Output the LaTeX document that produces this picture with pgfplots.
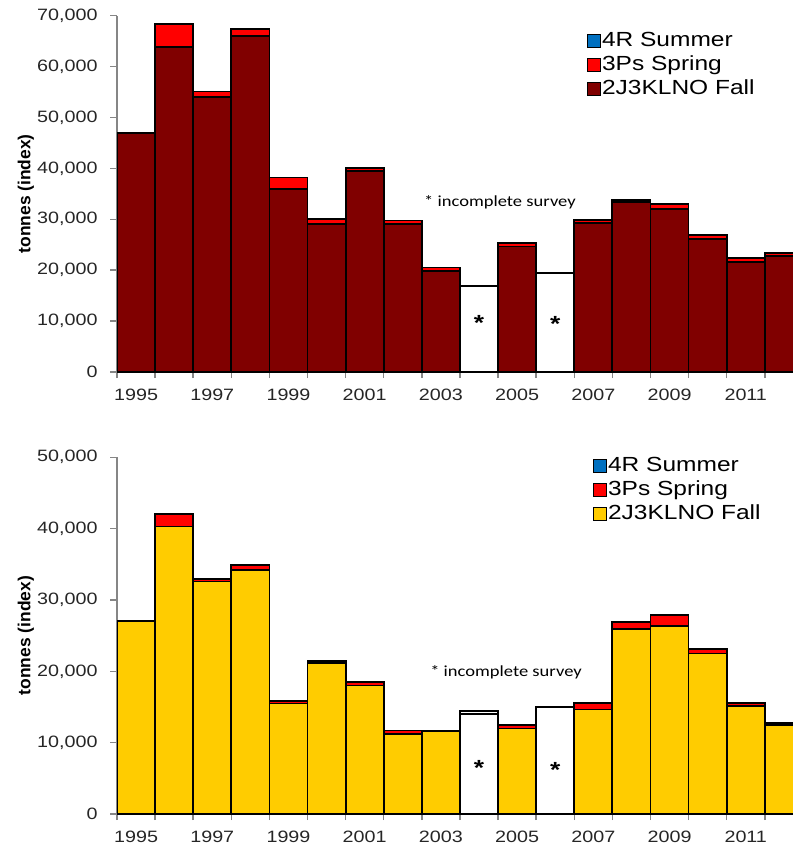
\documentclass[border=0pt]{standalone}
\usepackage{pgfplots}
\pgfplotsset{compat=1.18}
\usepackage{fontspec}
\setmainfont[FakeStretch=1.2]{Liberation Sans}
\newfontfamily\plainsans{Liberation Sans}
\newfontfamily\calib[FakeStretch=1.2]{Carlito}
\definecolor{fallred}{HTML}{800000}
\definecolor{springred}{HTML}{FF0000}
\definecolor{fallyellow}{HTML}{FFCC00}
\definecolor{summerblue}{HTML}{0070C0}
\definecolor{axisgray}{HTML}{868686}
\pgfplotsset{
  myaxis/.style={
    scale only axis, width=676bp, height=356.3bp,
    xmin=1994.5, xmax=2012.24, ymin=0,
    axis lines=left,
    axis line style={-, draw=axisgray, line width=1.5bp},
    tick align=outside,
    major tick length=7bp, minor tick length=6bp,
    xtick={1995,1997,...,2011},
    xticklabels={1995,1997,1999,2001,2003,2005,2007,2009,2011},
    minor xtick={1994.5,1995.5,...,2012.5},
    major x tick style={draw=none},
    minor x tick style={draw=axisgray, line width=1.5bp},
    major y tick style={draw=axisgray, line width=1.5bp},
    tick label style={font=\fontsize{16.5}{18}\selectfont, text=black!85},
    yticklabel style={xshift=-9bp, /pgf/number format/.cd, 1000 sep={,}, assume math mode=true},
    xticklabel style={yshift=-6bp},
    scaled y ticks=false,
    ylabel={\plainsans\bfseries\fontsize{17.5}{19}\selectfont tonnes (index)},
    ylabel style={at={(axis description cs:-0.135,0.5)}, anchor=center},
    legend style={draw=none, fill=none, inner sep=0pt, anchor=north west,
      font=\fontsize{20.5}{24}\selectfont, row sep=3bp,
      nodes={text height=15bp, text depth=4bp, inner sep=1bp},
      cells={anchor=west}},
    legend image code/.code={\draw[##1, line width=1bp] (0bp,-6.5bp) rectangle (13bp,6.5bp);},
  },
  mybar/.style={ybar, bar shift=0pt, bar width=1, draw=black, line width=1.8bp, forget plot},
}
\begin{document}
\begin{tikzpicture}
\useasboundingbox (0,0) rectangle (793bp,-848bp);
% ---------------- top chart ----------------
\begin{axis}[myaxis, at={(117bp,-372bp)}, anchor=south west,
  ymax=70000, ytick={0,10000,...,70000},
  legend style={at={(axis description cs:0.695,0.96)}}]
\addlegendimage{fill=summerblue, draw=black}
\addlegendentry{4R Summer}
\addlegendimage{fill=springred, draw=black}
\addlegendentry{3Ps Spring}
\addlegendimage{fill=fallred, draw=black}
\addlegendentry{2J3KLNO Fall}
% total (fall + spring)
\addplot[mybar, fill=springred] coordinates {
 (1995,47000) (1996,68400) (1997,55100) (1998,67400) (1999,38200) (2000,30000)
 (2001,40150) (2002,29750) (2003,20550) (2005,25300) (2007,29800) (2008,33800)
 (2009,32950) (2010,26900) (2011,22350) (2012,23400)};
% 2J3KLNO fall
\addplot[mybar, fill=fallred] coordinates {
 (1995,47000) (1996,63800) (1997,54000) (1998,66000) (1999,35900) (2000,29000)
 (2001,39550) (2002,29100) (2003,19850) (2005,24650) (2007,29350) (2008,33350)
 (2009,32000) (2010,26200) (2011,21650) (2012,22800)};
% incomplete surveys
\addplot[mybar, fill=white] coordinates {(2004,16900) (2006,19500)};
\node[font=\bfseries\fontsize{22}{24}\selectfont] at (axis cs:2004,9600) {*};
\node[font=\bfseries\fontsize{22}{24}\selectfont] at (axis cs:2006,9400) {*};
\node[font=\calib\fontsize{15.5}{17}\selectfont] at (axis cs:2004.55,33400) {* incomplete survey};
\end{axis}
% ---------------- bottom chart ----------------
\begin{axis}[myaxis, at={(117bp,-814bp)}, anchor=south west,
  height=356.7bp,
  ymax=50000, ytick={0,10000,...,50000},
  legend style={at={(axis description cs:0.704,1.0045)}}]
\addlegendimage{fill=summerblue, draw=black}
\addlegendentry{4R Summer}
\addlegendimage{fill=springred, draw=black}
\addlegendentry{3Ps Spring}
\addlegendimage{fill=fallyellow, draw=black}
\addlegendentry{2J3KLNO Fall}
\addplot[mybar, fill=springred] coordinates {
 (1995,27100) (1996,42050) (1997,32950) (1998,34900) (1999,15850) (2000,21500)
 (2001,18450) (2002,11700) (2003,11650) (2005,12500) (2007,15600) (2008,26950)
 (2009,27950) (2010,23100) (2011,15550) (2012,12800)};
\addplot[mybar, fill=fallyellow] coordinates {
 (1995,27100) (1996,40300) (1997,32600) (1998,34250) (1999,15500) (2000,21200)
 (2001,18000) (2002,11250) (2003,11650) (2005,12000) (2007,14650) (2008,25900)
 (2009,26350) (2010,22500) (2011,15150) (2012,12450)};
\addplot[mybar, fill=white] coordinates {(2004,14450) (2006,15050)};
\addplot[mybar, fill=white] coordinates {(2004,14050)};
\node[font=\bfseries\fontsize{22}{24}\selectfont] at (axis cs:2004,6400) {*};
\node[font=\bfseries\fontsize{22}{24}\selectfont] at (axis cs:2006,6200) {*};
\node[font=\calib\fontsize{15.5}{17}\selectfont] at (axis cs:2004.71,19900) {* incomplete survey};
\end{axis}
\end{tikzpicture}
\end{document}
